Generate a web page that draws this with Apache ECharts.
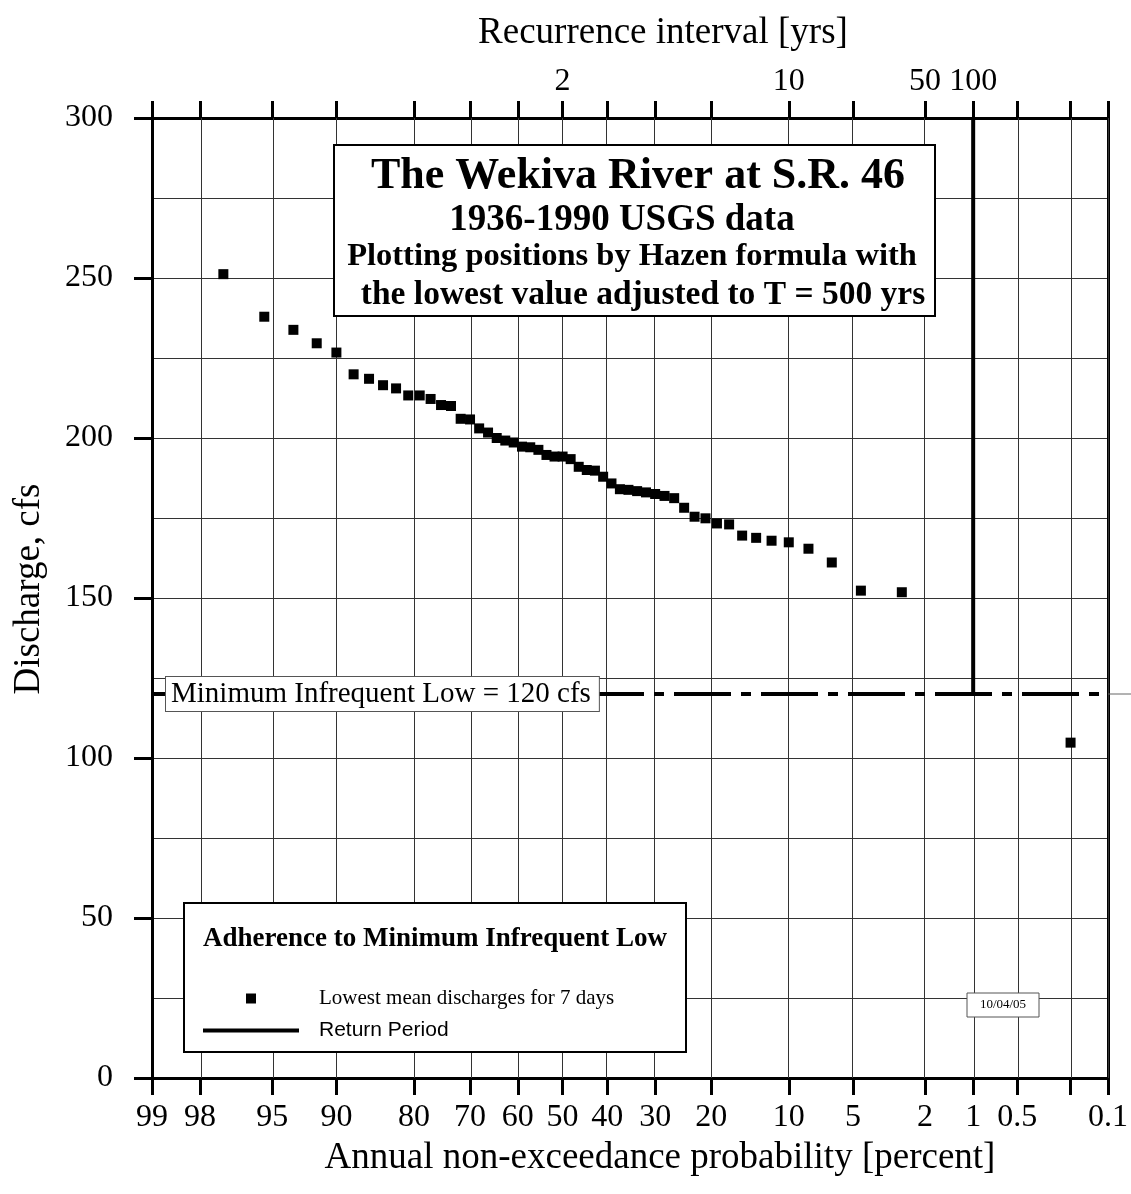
<!DOCTYPE html>
<html>
<head>
<meta charset="utf-8">
<script src="https://cdn.jsdelivr.net/npm/echarts@6/dist/echarts.min.js"></script>
<style>
  html, body { margin: 0; padding: 0; background: #fff; }
  #chart { width: 1131px; height: 1194px; }
</style>
</head>
<body>
<div id="chart"></div>
<script>
// ---- probability axis (annual non-exceedance, percent) ----
const PROB_TICKS  = [99, 98, 95, 90, 80, 70, 60, 50, 40, 30, 20, 10, 5, 2, 1, 0.5, 0.2, 0.1];
const PROB_LABELS = [99, 98, 95, 90, 80, 70, 60, 50, 40, 30, 20, 10, 5, 2, 1, 0.5, 0.1];
// recurrence interval labels on the top axis (years)
const RECURRENCE_LABELS = [2, 10, 50, 100];

// ---- discharge axis (cfs) ----
const Y_MIN = 0;
const Y_MAX = 300;
const Y_STEP = 50;

// ---- 7-day low flows: plotting position (percent) and discharge (cfs) ----
const PLOT_POS = [
  97.27, 95.45, 93.64, 91.82, 90.00, 88.18, 86.36, 84.55, 82.73, 80.91,
  79.09, 77.27, 75.45, 73.64, 71.82, 70.00, 68.18, 66.36, 64.55, 62.73,
  60.91, 59.09, 57.27, 55.45, 53.64, 51.82, 50.00, 48.18, 46.36, 44.55,
  42.73, 40.91, 39.09, 37.27, 35.45, 33.64, 31.82, 30.00, 28.18, 26.36,
  24.55, 22.73, 20.91, 19.09, 17.27, 15.45, 13.64, 11.82, 10.00, 8.18,
  6.36, 4.55, 2.73, 0.2
];
const DISCHARGE = [
  251.2, 237.9, 233.8, 229.6, 226.7, 219.9, 218.5, 216.5, 215.5, 213.3,
  213.3, 212.2, 210.3, 210.0, 206.0, 205.8, 203.0, 201.7, 200.0, 199.2,
  198.6, 197.3, 197.1, 196.3, 194.7, 194.2, 194.2, 193.4, 191.0, 190.0,
  189.8, 187.9, 185.8, 184.0, 183.8, 183.4, 183.0, 182.5, 181.9, 181.2,
  178.2, 175.4, 174.9, 173.3, 173.0, 169.5, 168.8, 167.9, 167.4, 165.4,
  161.1, 152.3, 151.8, 104.8
];

// minimum infrequent low (cfs) and its return period (years)
const MIN_INFREQUENT_LOW = 120;
const RETURN_PERIOD_YRS = 100;

const SERIF = '"Liberation Serif", "Times New Roman", serif';
const SANS = '"Liberation Sans", Arial, sans-serif';

// inverse standard normal CDF (Acklam's rational approximation)
function normInv(p) {
  const a = [-3.969683028665376e+01, 2.209460984245205e+02, -2.759285104469687e+02,
             1.383577518672690e+02, -3.066479806614716e+01, 2.506628277459239e+00];
  const b = [-5.447609879822406e+01, 1.615858368580409e+02, -1.556989798598866e+02,
             6.680131188771972e+01, -1.328068155288572e+01];
  const c = [-7.784894002430293e-03, -3.223964580411365e-01, -2.400758277161838e+00,
             -2.549732539343734e+00, 4.374664141464968e+00, 2.938163982698783e+00];
  const d = [7.784695709041462e-03, 3.224671290700398e-01, 2.445134137142996e+00,
             3.754408661907416e+00];
  const pl = 0.02425, ph = 1 - pl;
  let q, r;
  if (p < pl) {
    q = Math.sqrt(-2 * Math.log(p));
    return (((((c[0]*q+c[1])*q+c[2])*q+c[3])*q+c[4])*q+c[5]) / ((((d[0]*q+d[1])*q+d[2])*q+d[3])*q+1);
  }
  if (p > ph) {
    q = Math.sqrt(-2 * Math.log(1 - p));
    return -(((((c[0]*q+c[1])*q+c[2])*q+c[3])*q+c[4])*q+c[5]) / ((((d[0]*q+d[1])*q+d[2])*q+d[3])*q+1);
  }
  q = p - 0.5; r = q * q;
  return (((((a[0]*r+a[1])*r+a[2])*r+a[3])*r+a[4])*r+a[5])*q / (((((b[0]*r+b[1])*r+b[2])*r+b[3])*r+b[4])*r+1);
}
// probability paper: non-exceedance percent -> normal score (increasing to the right)
const probToAxis = p => -normInv(p / 100);

const X_MIN = probToAxis(PROB_TICKS[0]);
const X_MAX = probToAxis(PROB_TICKS[PROB_TICKS.length - 1]);

function lookupLabel(v, list, toAxis, fmt) {
  for (const t of list) {
    if (Math.abs(toAxis(t) - v) < 1e-4) return fmt(t);
  }
  return '';
}

const GRID_COLOR = '#333';
const tickFont = { fontFamily: SERIF, fontSize: 32, color: '#000' };
const nameFont = { fontFamily: SERIF, fontSize: 37, color: '#000' };

const chart = echarts.init(document.getElementById('chart'), null, { renderer: 'canvas' });

const option = {
  animation: false,
  backgroundColor: '#fff',
  grid: { left: 152, right: 16, top: 118, bottom: 116, containLabel: false },
  xAxis: [
    {
      type: 'value',
      position: 'bottom',
      min: X_MIN,
      max: X_MAX,
      name: 'Annual non-exceedance probability [percent]',
      nameLocation: 'middle',
      nameGap: 62,
      nameTextStyle: Object.assign({}, nameFont, { padding: [0, 0, 0, 60] }),
      axisLine: { show: true, onZero: false, lineStyle: { color: '#000', width: 3 } },
      axisTick: {
        show: true, length: 17, lineStyle: { color: '#000', width: 3 },
        customValues: PROB_TICKS.map(probToAxis)
      },
      axisLabel: Object.assign({}, tickFont, {
        margin: 24,
        customValues: PROB_LABELS.map(probToAxis),
        formatter: v => lookupLabel(v, PROB_LABELS, probToAxis, t => String(t))
      }),
      splitLine: { show: false }
    },
    {
      type: 'value',
      position: 'top',
      min: X_MIN,
      max: X_MAX,
      name: 'Recurrence interval [yrs]',
      nameLocation: 'middle',
      nameGap: 66,
      nameTextStyle: Object.assign({}, nameFont, { padding: [0, 0, 0, 66] }),
      axisLine: { show: true, onZero: false, lineStyle: { color: '#000', width: 3 } },
      axisTick: {
        show: true, length: 17, lineStyle: { color: '#000', width: 3 },
        customValues: PROB_TICKS.map(probToAxis)
      },
      axisLabel: Object.assign({}, tickFont, {
        margin: 20,
        customValues: RECURRENCE_LABELS.map(T => probToAxis(100 / T)),
        formatter: v => lookupLabel(v, RECURRENCE_LABELS, T => probToAxis(100 / T), T => String(T))
      }),
      splitLine: { show: false }
    }
  ],
  yAxis: [
    {
      type: 'value',
      position: 'left',
      min: Y_MIN,
      max: Y_MAX,
      interval: Y_STEP,
      name: 'Discharge, cfs',
      nameLocation: 'middle',
      nameRotate: 90,
      nameGap: 104,
      nameTextStyle: Object.assign({}, nameFont, { padding: [0, 0, 0, 18] }),
      axisLine: { show: true, onZero: false, lineStyle: { color: '#000', width: 3 } },
      axisTick: { show: true, length: 18, lineStyle: { color: '#000', width: 3 } },
      axisLabel: Object.assign({}, tickFont, { margin: 39 }),
      splitLine: { show: true, lineStyle: { color: GRID_COLOR, width: 1 } },
      minorTick: { show: false, splitNumber: 2 },
      minorSplitLine: { show: true, lineStyle: { color: GRID_COLOR, width: 1 } }
    },
    {
      type: 'value',
      position: 'right',
      min: Y_MIN,
      max: Y_MAX,
      interval: Y_STEP,
      axisLine: { show: true, onZero: false, lineStyle: { color: '#000', width: 3 } },
      axisTick: { show: false },
      axisLabel: { show: false },
      splitLine: { show: false }
    }
  ],
  legend: {
    orient: 'vertical',
    left: 203,
    top: 988,
    padding: 0,
    itemWidth: 96,
    itemHeight: 10,
    itemGap: 11,
    selectedMode: false,
    z: 6,
    textStyle: { color: '#000', padding: [0, 0, 0, 15] },
    data: [
      {
        name: 'Lowest mean discharges for 7 days',
        icon: 'path://M0,0H10V10H0Z',
        itemStyle: { color: '#000', opacity: 1 },
        textStyle: { fontFamily: SERIF, fontSize: 21, color: '#000', padding: [0, 0, 0, 15] }
      },
      {
        name: 'Return Period',
        icon: 'path://M0,0H96V4H0Z',
        itemStyle: { color: '#000', opacity: 1 },
        textStyle: { fontFamily: SANS, fontSize: 21, color: '#000', padding: [0, 0, 0, 15] }
      }
    ]
  },
  graphic: [
    // title block
    {
      id: 'titleBox', type: 'rect', z: 10,
      shape: { x: 334, y: 145, width: 601, height: 171 },
      style: { fill: '#fff', stroke: '#000', lineWidth: 2 }
    },
    {
      id: 'title1', type: 'text', z: 11,
      style: { text: 'The Wekiva River at S.R. 46', x: 638, y: 177, align: 'center', verticalAlign: 'middle',
               fontFamily: SERIF, fontWeight: 'bold', fontSize: 44, fill: '#000' }
    },
    {
      id: 'title2', type: 'text', z: 11,
      style: { text: '1936-1990 USGS data', x: 622, y: 220, align: 'center', verticalAlign: 'middle',
               fontFamily: SERIF, fontWeight: 'bold', fontSize: 37, fill: '#000' }
    },
    {
      id: 'title3', type: 'text', z: 11,
      style: { text: 'Plotting positions by Hazen formula with', x: 632, y: 257, align: 'center', verticalAlign: 'middle',
               fontFamily: SERIF, fontWeight: 'bold', fontSize: 32.5, fill: '#000' }
    },
    {
      id: 'title4', type: 'text', z: 11,
      style: { text: 'the lowest value adjusted to T = 500 yrs', x: 643, y: 295, align: 'center', verticalAlign: 'middle',
               fontFamily: SERIF, fontWeight: 'bold', fontSize: 33.5, fill: '#000' }
    },
    // legend frame and heading
    {
      id: 'legendBox', type: 'rect', z: 3,
      shape: { x: 184, y: 903, width: 502, height: 149 },
      style: { fill: '#fff', stroke: '#000', lineWidth: 2 }
    },
    {
      id: 'legendHead', type: 'text', z: 4,
      style: { text: 'Adherence to Minimum Infrequent Low', x: 435, y: 939, align: 'center', verticalAlign: 'middle',
               fontFamily: SERIF, fontWeight: 'bold', fontSize: 27, fill: '#000' }
    },
    // date stamp
    {
      id: 'dateBox', type: 'rect', z: 10,
      shape: { x: 967, y: 993, width: 72, height: 24 },
      style: { fill: '#fff', stroke: '#555', lineWidth: 1 }
    },
    {
      id: 'dateText', type: 'text', z: 11,
      style: { text: '10/04/05', x: 1003, y: 1005, align: 'center', verticalAlign: 'middle',
               fontFamily: SERIF, fontSize: 13, fill: '#000' }
    }
  ],
  series: [
    // vertical grid lines at the probability ticks
    {
      type: 'line',
      name: 'grid',
      data: [],
      z: 1,
      silent: true,
      markLine: {
        silent: true,
        symbol: 'none',
        animation: false,
        z: 1,
        label: { show: false },
        lineStyle: { color: GRID_COLOR, width: 1, type: 'solid' },
        data: PROB_TICKS.map(p => ({ xAxis: probToAxis(p) }))
      }
    },
    {
      type: 'scatter',
      name: 'Lowest mean discharges for 7 days',
      xAxisIndex: 0,
      yAxisIndex: 0,
      symbol: 'rect',
      symbolSize: 10,
      itemStyle: { color: '#000', opacity: 1 },
      z: 5,
      data: PLOT_POS.map((p, i) => [probToAxis(p), DISCHARGE[i]])
    },
    {
      type: 'line',
      name: 'Return Period',
      xAxisIndex: 0,
      yAxisIndex: 0,
      symbol: 'none',
      itemStyle: { color: '#000' },
      lineStyle: { color: '#000', width: 4 },
      z: 4,
      data: [
        [probToAxis(100 / RETURN_PERIOD_YRS), MIN_INFREQUENT_LOW],
        [probToAxis(100 / RETURN_PERIOD_YRS), Y_MAX]
      ],
      markLine: {
        silent: true,
        symbol: 'none',
        animation: false,
        z: 4,
        lineStyle: { color: '#000', width: 4, type: [57, 10, 10, 10], dashOffset: 0 },
        label: {
          show: true,
          position: 'insideStart',
          distance: 14,
          formatter: p => 'Minimum Infrequent Low = ' + p.value + ' cfs',
          fontFamily: SERIF,
          fontSize: 29,
          color: '#000',
          backgroundColor: '#fff',
          borderColor: '#555',
          borderWidth: 1,
          padding: [3, 8, 2, 5]
        },
        data: [{ yAxis: MIN_INFREQUENT_LOW }]
      }
    }
  ]
};

chart.setOption(option);

// thin continuation of the minimum-flow level past the right frame
const lowY = chart.convertToPixel({ yAxisIndex: 0 }, MIN_INFREQUENT_LOW);
const frameRight = chart.convertToPixel({ xAxisIndex: 0 }, X_MAX);
chart.setOption({
  graphic: [{
    id: 'lowExt', type: 'line', z: 2,
    shape: { x1: frameRight, y1: lowY, x2: chart.getWidth(), y2: lowY },
    style: { stroke: '#666', lineWidth: 1 }
  }]
});
</script>
</body>
</html>
